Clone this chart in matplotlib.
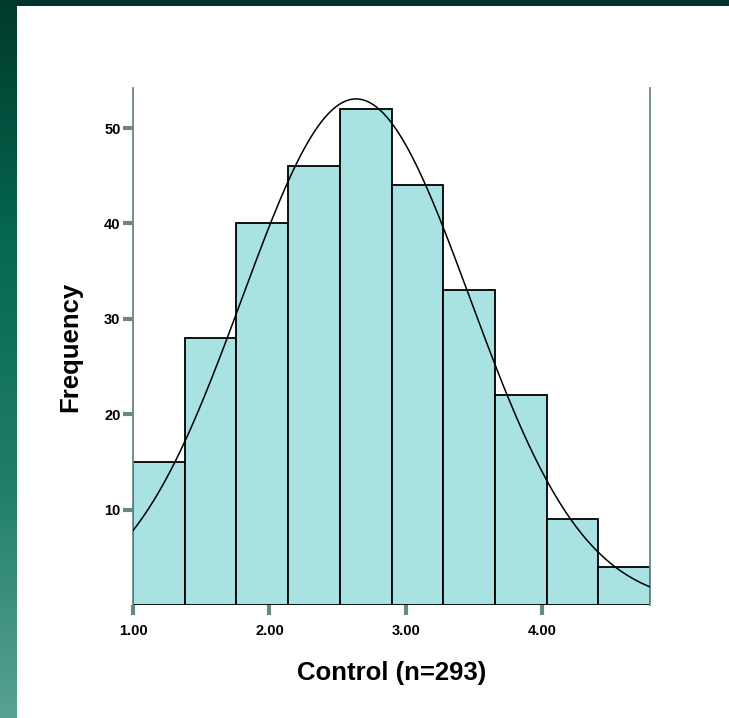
import numpy as np
import matplotlib
matplotlib.use("Agg")
import matplotlib.pyplot as plt
from matplotlib.colors import LinearSegmentedColormap

plt.rcParams["font.family"] = ["Liberation Sans", "DejaVu Sans"]

# histogram data
bin_edges = [1.00, 1.379, 1.758, 2.137, 2.516, 2.895, 3.274, 3.653, 4.032, 4.411, 4.79]
counts = [15, 28, 40, 46, 52, 44, 33, 22, 9, 4]
n_total = 293
mean = 2.635
sd = 0.835

y_ticks = [10, 20, 30, 40, 50]
x_ticks = [1.0, 2.0, 3.0, 4.0]
x_labels = ["1.00", "2.00", "3.00", "4.00"]

fig = plt.figure(figsize=(7.29, 7.18), dpi=100)
fig.patch.set_facecolor("white")

# slide background: dark top band and green gradient on the left
top = fig.add_axes([0, 1 - 6 / 718, 1, 6 / 718])
top.set_facecolor("#00332a")
top.set_xticks([])
top.set_yticks([])
for s in top.spines.values():
    s.set_visible(False)

side = fig.add_axes([0, 0, 17 / 729, 1])
cmap = LinearSegmentedColormap.from_list("band", ["#003a2c", "#06684f", "#1f7e68", "#58a291"])
side.imshow(np.linspace(0, 1, 256).reshape(-1, 1), aspect="auto", cmap=cmap)
side.set_xticks([])
side.set_yticks([])
for s in side.spines.values():
    s.set_visible(False)

ax = fig.add_axes([133 / 729, 1 - 605 / 718, 517 / 729, 517 / 718])
widths = np.diff(bin_edges)
ax.bar(bin_edges[:-1], counts, width=widths, align="edge",
       color="#a8e2e2", edgecolor="black", linewidth=1.3, zorder=2)

xs = np.linspace(bin_edges[0], bin_edges[-1], 300)
bw = widths.mean()
ys = n_total * bw * np.exp(-0.5 * ((xs - mean) / sd) ** 2) / (sd * np.sqrt(2 * np.pi))
ax.plot(xs, ys, color="black", linewidth=1.1, zorder=3)

ax.set_xlim(bin_edges[0], bin_edges[-1])
ax.set_ylim(0, 54.2)

spine_col = "#668888"
ax.spines["top"].set_visible(False)
ax.spines["bottom"].set_visible(False)
ax.spines["left"].set_color(spine_col)
ax.spines["right"].set_color(spine_col)
ax.spines["left"].set_linewidth(1.3)
ax.spines["right"].set_linewidth(1.3)

ax.set_yticks(y_ticks)
ax.set_xticks(x_ticks)
ax.set_xticklabels(x_labels)
ax.tick_params(axis="both", colors=spine_col, width=3, length=7, labelcolor="black",
               labelsize=10.5)
ax.tick_params(axis="x", pad=7)
ax.tick_params(axis="y", pad=2)
for lab in ax.get_xticklabels() + ax.get_yticklabels():
    lab.set_fontweight("bold")

ax.set_xlabel("Control (n=293)", fontsize=18.5, fontweight="bold", labelpad=16)
ax.set_ylabel("Frequency", fontsize=18.5, fontweight="bold", labelpad=16)

fig.savefig("out.png", dpi=100, facecolor="white")
